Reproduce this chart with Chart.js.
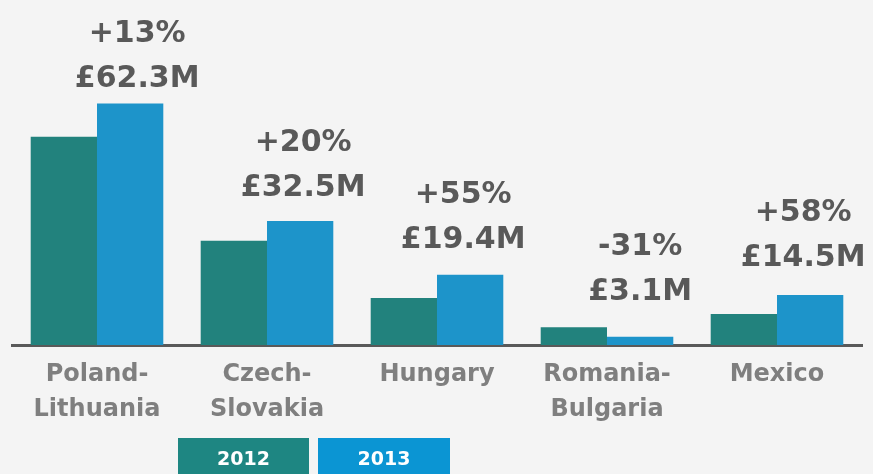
<!DOCTYPE html>
<html>
<head>
<meta charset="utf-8">
<script src="https://cdn.jsdelivr.net/npm/chart.js@4/dist/chart.umd.min.js"></script>
<style>
  html, body { margin: 0; padding: 0; background: #f4f4f4; }
  #wrap { width: 873px; height: 474px; position: relative; }
</style>
</head>
<body>
<div id="wrap"><canvas id="c"></canvas></div>
<script>
// data
const categories = [["Poland-", "Lithuania"], ["Czech-", "Slovakia"], "Hungary", ["Romania-", "Bulgaria"], "Mexico"];
const years = ["2012", "2013"];
const values2012 = [53.7, 26.9, 12.1, 4.6, 8.0];
const values2013 = [62.3, 32.0, 18.1, 2.1, 12.9];
const growthLabels = ["+13%", "+20%", "+55%", "-31%", "+58%"];
const valueLabels = ["£62.3M", "£32.5M", "£19.4M", "£3.1M", "£14.5M"];

// layout: label gap above the 2013 bar and sideways nudge
const labelGap = [17, 25, 27, 37, 29];
const labelShift = [7, 3, -7, 0, -7];

const FONT = "'DejaVu Sans', sans-serif";
const colors = ["#22827d", "#1d94ca"];
const legendColors = ["#1e8682", "#0b95d3"];

const background = {
  id: "background",
  beforeDraw(chart) {
    const ctx = chart.ctx;
    ctx.save();
    ctx.fillStyle = "#f4f4f4";
    ctx.fillRect(0, 0, chart.width, chart.height);
    ctx.restore();
  }
};

const barLabels = {
  id: "barLabels",
  afterDatasetsDraw(chart) {
    const ctx = chart.ctx;
    const meta = chart.getDatasetMeta(1);
    ctx.save();
    ctx.fillStyle = "#595959";
    ctx.font = "bold 30px " + FONT;
    ctx.textAlign = "center";
    ctx.textBaseline = "alphabetic";
    meta.data.forEach((bar, i) => {
      const x = bar.x + labelShift[i];
      const y = bar.y - labelGap[i];
      ctx.fillText(valueLabels[i], x, y);
      ctx.fillText(growthLabels[i], x, y - 45);
    });
    ctx.restore();
  }
};

const boxLegend = {
  id: "boxLegend",
  afterDraw(chart) {
    const ctx = chart.ctx;
    const boxes = [[178, 131], [318, 132]];
    ctx.save();
    ctx.font = "bold 19px " + FONT;
    ctx.textAlign = "center";
    ctx.textBaseline = "middle";
    years.forEach((y, i) => {
      const [x, w] = boxes[i];
      ctx.fillStyle = legendColors[i];
      ctx.fillRect(x, 438, w, 40);
      ctx.fillStyle = "#ffffff";
      ctx.fillText(y, x + w / 2, 460);
    });
    ctx.restore();
  }
};

new Chart(document.getElementById("c"), {
  type: "bar",
  data: {
    labels: categories,
    datasets: [
      { label: years[0], data: values2012, backgroundColor: colors[0], borderWidth: 0 },
      { label: years[1], data: values2013, backgroundColor: colors[1], borderWidth: 0 }
    ]
  },
  options: {
    responsive: true,
    maintainAspectRatio: false,
    animation: false,
    layout: { padding: { left: 12, right: 11, top: 0, bottom: 0 } },
    categoryPercentage: 0.78,
    barPercentage: 1,
    plugins: {
      legend: { display: false },
      tooltip: { enabled: false }
    },
    scales: {
      x: {
        grid: { display: false },
        border: { display: true, color: "#595959", width: 3 },
        ticks: {
          color: "#7f7f7f",
          padding: 4,
          maxRotation: 0,
          autoSkip: false,
          font: { family: FONT, weight: "bold", size: 24, lineHeight: 1.46 }
        },
        afterFit(scale) { scale.height = 129; }
      },
      y: {
        display: false,
        min: 0,
        max: 89
      }
    }
  },
  plugins: [background, barLabels, boxLegend]
});
</script>
</body>
</html>
